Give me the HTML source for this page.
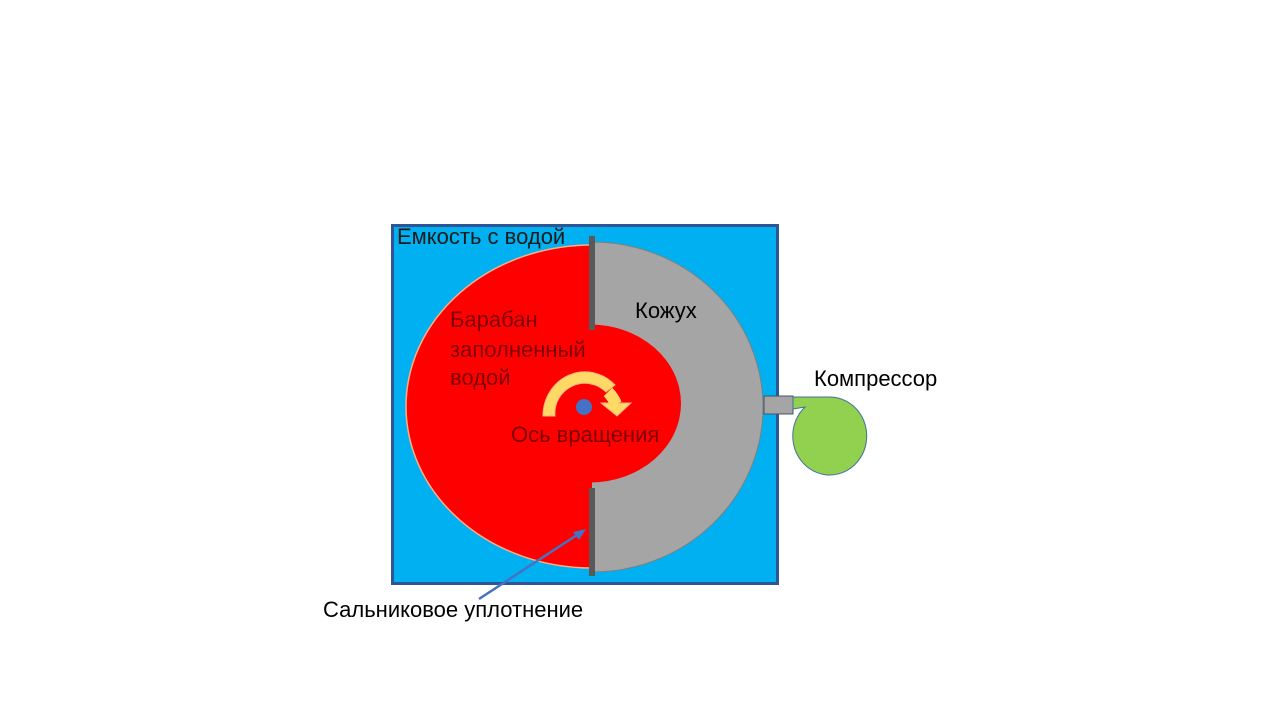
<!DOCTYPE html>
<html><head><meta charset="utf-8"><style>
body{margin:0;width:1280px;height:720px;background:#fff;overflow:hidden}
svg text{font-family:"Liberation Sans","DejaVu Sans",sans-serif;font-size:22px}
</style></head><body>
<svg width="1280" height="720" viewBox="0 0 1280 720">
<defs><clipPath id="r"><rect x="592" y="0" width="400" height="720"/></clipPath>
<clipPath id="l"><rect x="0" y="0" width="592" height="720"/></clipPath></defs>
<rect x="392.5" y="225.5" width="385" height="358" fill="#00B0F0" stroke="#2F5597" stroke-width="3"/>
<ellipse cx="592" cy="406.5" rx="186" ry="161.5" fill="#FF0000" stroke="#F4B183" stroke-width="1.5" clip-path="url(#l)"/>
<ellipse cx="592" cy="407" rx="171" ry="165" fill="#A5A5A5" stroke="#7F7F7F" stroke-width="1" clip-path="url(#r)"/>
<ellipse cx="590" cy="403.5" rx="91" ry="79" fill="#FF0000" clip-path="url(#r)"/>
<rect x="589" y="236" width="6" height="94" fill="#595959"/>
<rect x="589" y="488" width="6" height="88" fill="#595959"/>
<path d="M543 416 A42 44 0 0 1 615 385 L606 392 A30 30 0 0 0 555 416 Z" fill="#FFD966" stroke="#F4B183" stroke-width="1"/>
<path d="M601 403 L631 403 L617 416 Z" fill="#FFD966" stroke="#F4B183" stroke-width="1"/>
<path d="M608 392 A36 38 0 0 1 616 404" fill="none" stroke="#FFD966" stroke-width="12"/>
<circle cx="584" cy="407" r="8" fill="#4472C4"/>
<rect x="764" y="396" width="29" height="18" fill="#A5A5A5" stroke="#44546A" stroke-width="1"/>
<path d="M793 397 L830 397 A37 39 0 1 1 805 407 L793 409 Z" fill="#92D050" stroke="#41719C" stroke-width="1"/>
<line x1="479" y1="599" x2="580" y2="533" stroke="#4472C4" stroke-width="2.5"/>
<path d="M586 529 L573 532 L579 540 Z" fill="#4472C4"/>
<text x="397" y="244" fill="#1a1a1a">Емкость с водой</text>
<text x="635" y="318" fill="#000">Кожух</text>
<text x="450" y="327" fill="#7F0000">Барабан</text>
<text x="450" y="357" fill="#7F0000">заполненный</text>
<text x="450" y="385" fill="#7F0000">водой</text>
<text x="511" y="442" fill="#7F0000">Ось вращения</text>
<text x="814" y="386" fill="#000">Компрессор</text>
<text x="323" y="617" fill="#000">Сальниковое уплотнение</text>
</svg>
</body></html>
